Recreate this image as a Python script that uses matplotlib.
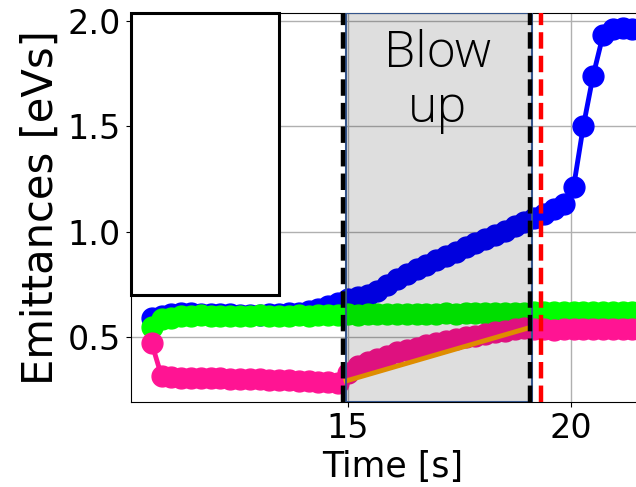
import matplotlib
matplotlib.use("Agg")
import matplotlib.pyplot as plt
from matplotlib.patches import Rectangle

# time axis of the turn-by-turn measurements [s]
t = [10.60, 10.82, 11.04, 11.26, 11.48, 11.70, 11.92, 12.14, 12.36, 12.58,
     12.80, 13.02, 13.24, 13.46, 13.68, 13.90, 14.12, 14.34, 14.56, 14.78,
     15.00, 15.22, 15.44, 15.66, 15.88, 16.10, 16.32, 16.54, 16.76, 16.98,
     17.20, 17.42, 17.64, 17.86, 18.08, 18.30, 18.52, 18.74, 18.96, 19.18,
     19.40, 19.62, 19.84, 20.06, 20.28, 20.50, 20.72, 20.94, 21.16, 21.38]

emit_blue = [0.590, 0.600, 0.610, 0.615, 0.612, 0.610, 0.610, 0.608, 0.607, 0.606,
             0.606, 0.606, 0.607, 0.609, 0.612, 0.616, 0.622, 0.632, 0.645, 0.660,
             0.680, 0.688, 0.700, 0.720, 0.745, 0.775, 0.800, 0.822, 0.843, 0.863,
             0.883, 0.905, 0.925, 0.945, 0.965, 0.985, 1.005, 1.025, 1.045, 1.065,
             1.085, 1.105, 1.130, 1.210, 1.500, 1.740, 1.930, 1.960, 1.965, 1.960]

emit_green = [0.550, 0.585, 0.592, 0.600, 0.600, 0.603, 0.600, 0.602, 0.600, 0.601,
              0.602, 0.603, 0.601, 0.600, 0.602, 0.603, 0.601, 0.603, 0.604, 0.605,
              0.607, 0.606, 0.608, 0.607, 0.609, 0.608, 0.610, 0.609, 0.611, 0.610,
              0.612, 0.611, 0.613, 0.612, 0.614, 0.613, 0.615, 0.614, 0.616, 0.617,
              0.618, 0.617, 0.619, 0.618, 0.620, 0.619, 0.621, 0.620, 0.621, 0.621]

emit_pink = [0.470, 0.315, 0.310, 0.308, 0.307, 0.306, 0.305, 0.304, 0.303, 0.302,
             0.300, 0.299, 0.298, 0.296, 0.295, 0.293, 0.291, 0.289, 0.287, 0.284,
             0.330, 0.365, 0.380, 0.395, 0.410, 0.428, 0.440, 0.450, 0.462, 0.470,
             0.482, 0.490, 0.498, 0.507, 0.515, 0.523, 0.530, 0.537, 0.543, 0.540,
             0.536, 0.535, 0.536, 0.537, 0.536, 0.538, 0.537, 0.538, 0.537, 0.538]

# linear fit during the blow-up
fit_t = [14.96, 19.08]
fit_y = [0.292, 0.545]

blowup_start, blowup_end = 14.96, 19.12
cuts = [14.88, 19.08]
red_cut = 19.32

fig = plt.figure(figsize=(6.36, 4.87), dpi=100)
ax = fig.add_axes([130.6 / 636, 85 / 487, 523.4 / 636, 389.3 / 487])

ms = 15
ax.plot(t, emit_blue, "o-", color="#0000ff", lw=3.5, ms=ms, zorder=2)
ax.plot(t, emit_green, "o-", color="#00ff00", lw=3.5, ms=ms, zorder=2.1)
ax.plot(t, emit_pink, "o-", color="#ff1493", lw=3.5, ms=ms, zorder=2.2)
ax.plot(fit_t, fit_y, "-", color="#ffa200", lw=3.5, zorder=3)

ax.axvspan(blowup_start, blowup_end, facecolor=(0, 0, 0, 0.13),
           edgecolor="#34558c", lw=1.5, zorder=4)
for c in cuts:
    ax.axvline(c, color="black", ls="--", lw=3.2, zorder=5)
ax.axvline(red_cut, color="red", ls="--", lw=3.2, zorder=5)

ax.text(17.02, 1.96, "Blow\nup", ha="center", va="top", fontsize=36,
        family=["Open Sans", "DejaVu Sans"], fontweight="light",
        linespacing=1.12, zorder=6)

# empty legend frame
ax.add_patch(Rectangle((0, 0.275), 0.2835, 0.725, transform=ax.transAxes,
                       facecolor="white", edgecolor="black", lw=2.2, zorder=7,
                       clip_on=False))

ax.set_xlim(10.126, 21.865)
ax.set_ylim(0.192, 2.038)
ax.set_xticks([15, 20])
ax.set_yticks([0.5, 1.0, 1.5, 2.0])
ax.grid(True, color="#b0b0b0", lw=1)
ax.set_axisbelow(True)
ax.tick_params(labelsize=24)
ax.set_xlabel("Time [s]", fontsize=25)
ax.set_ylabel("Emittances [eVs]", fontsize=30)

fig.savefig("out.png", dpi=100)
